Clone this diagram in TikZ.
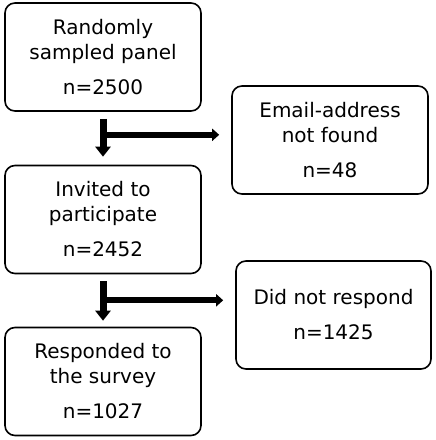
\documentclass[tikz,border=0pt]{standalone}
\usepackage{fontspec}
\setmainfont{DejaVu Sans}
\usetikzlibrary{calc, arrows.meta}

\begin{document}
\begin{tikzpicture}[x=1pt, y=1pt,
    stagebox/.style={draw, line width=1.6pt, rounded corners=10pt,
        minimum width=196pt, minimum height=108pt, align=center,
        inner sep=0pt, font=\fontsize{20}{25}\selectfont},
    mainbar/.style={line width=7pt, -{Triangle[length=10pt, width=15pt]}},
    sidebar/.style={line width=6pt, -{Triangle[length=7pt, width=12pt]}}]
\useasboundingbox (0,0) rectangle (436,440);

\node[stagebox] (sampled) at (103,383) {Randomly\\sampled panel\\[10pt]n=2500};
\node[stagebox] (email) at (330,300) {Email-address\\not found\\[10pt]n=48};
\node[stagebox] (invited) at (103,220.5) {Invited to\\participate\\[10pt]n=2452};
\node[stagebox, minimum width=195pt] (norespond) at (333.5,125) {Did not respond\\[10pt]n=1425};
\node[stagebox] (responded) at (103,58.5) {Responded to\\the survey\\[10pt]n=1027};

% exclusions
\coordinate (split1) at ($(sampled.south)+(0,-23)$);
\coordinate (split2) at ($(invited.south)+(0,-26)$);

\draw[mainbar, shorten <=7pt, shorten >=8pt] (sampled.south) -- (invited.north);
\draw[sidebar, shorten >=12pt] (split1) -- (split1 -| email.west);
\draw[mainbar, shorten <=7pt, shorten >=6pt] (invited.south) -- (responded.north);
\draw[sidebar, shorten >=12pt] (split2) -- (split2 -| norespond.west);

\end{tikzpicture}
\end{document}
